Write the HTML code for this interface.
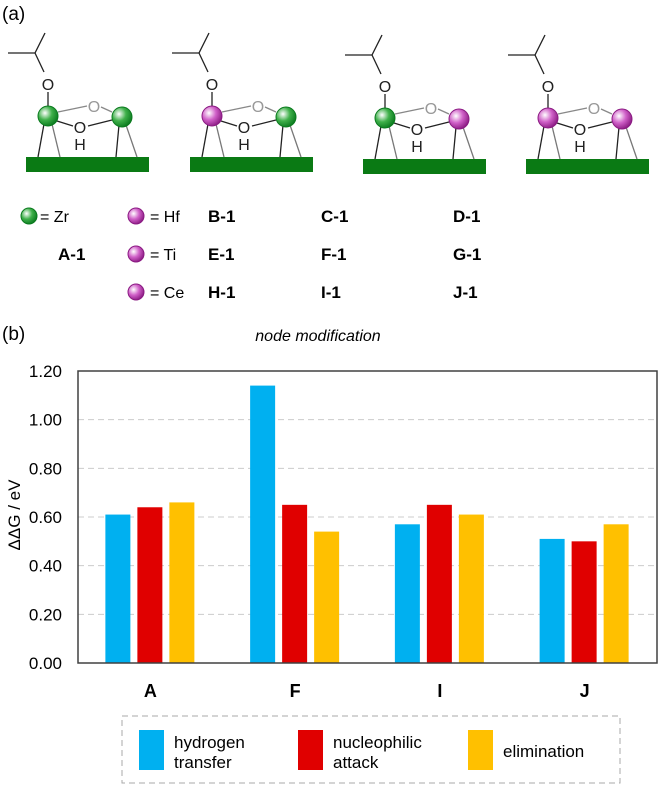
<!DOCTYPE html>
<html><head><meta charset="utf-8"><style>
body{margin:0;background:#fff;font-family:"Liberation Sans",Arial,sans-serif;}
svg text{font-family:"Liberation Sans",Arial,sans-serif;}
</style></head><body>
<svg id="fig" width="658" height="785" xmlns="http://www.w3.org/2000/svg">
<defs>
<radialGradient id="gG" cx="0.35" cy="0.35" r="0.7"><stop offset="0" stop-color="#fff"/><stop offset="0.5" stop-color="#3fb04a"/><stop offset="1" stop-color="#0a7a1e"/></radialGradient>
<radialGradient id="gP" cx="0.35" cy="0.35" r="0.7"><stop offset="0" stop-color="#fff"/><stop offset="0.5" stop-color="#d060c8"/><stop offset="1" stop-color="#8a1a82"/></radialGradient>
</defs>
<text x="2" y="20" font-size="19">(a)</text>
<g id="structs"></g>
<g font-size="16">
<circle cx="29" cy="216" r="8" fill="url(#gG)" stroke="#0a7a1e"/><text x="40" y="222">= Zr</text>
<circle cx="136" cy="216" r="8" fill="url(#gP)" stroke="#8a1a82"/><text x="150" y="222">= Hf</text>
<circle cx="136" cy="254" r="8" fill="url(#gP)" stroke="#8a1a82"/><text x="150" y="260">= Ti</text>
<circle cx="136" cy="292" r="8" fill="url(#gP)" stroke="#8a1a82"/><text x="150" y="298">= Ce</text>
</g>
<g font-size="17" font-weight="bold">
<text x="58" y="260">A-1</text>
<text x="208" y="222">B-1</text><text x="321" y="222">C-1</text><text x="453" y="222">D-1</text>
<text x="208" y="260">E-1</text><text x="321" y="260">F-1</text><text x="453" y="260">G-1</text>
<text x="208" y="298">H-1</text><text x="321" y="298">I-1</text><text x="453" y="298">J-1</text>
</g>
<text x="2" y="340" font-size="19">(b)</text>
<text x="318" y="341" font-size="16" font-style="italic" text-anchor="middle">node modification</text>
<g id="chart"></g>
<text transform="translate(20,515) rotate(-90)" font-size="17" text-anchor="middle">ΔΔG / eV</text>
<rect x="122" y="716" width="498" height="67" fill="none" stroke="#aaa" stroke-dasharray="6,4"/>
<g font-size="17">
<rect x="139" y="730" width="25" height="40" fill="#00b0f0"/>
<text x="174" y="748">hydrogen</text><text x="174" y="768">transfer</text>
<rect x="298" y="730" width="25" height="40" fill="#e00000"/>
<text x="333" y="748">nucleophilic</text><text x="333" y="768">attack</text>
<rect x="468" y="730" width="25" height="40" fill="#ffc000"/>
<text x="503" y="757">elimination</text>
</g>
</svg>
<script>
const categories = ["A","F","I","J"];
const hydrogenTransfer = [0.61, 1.14, 0.57, 0.51];
const nucleophilicAttack = [0.64, 0.65, 0.65, 0.50];
const elimination = [0.66, 0.54, 0.61, 0.57];
const yTicks = [0, 0.2, 0.4, 0.6, 0.8, 1.0, 1.2];
const tickLabels = ["0.00","0.20","0.40","0.60","0.80","1.00","1.20"];

const NS = "http://www.w3.org/2000/svg";
function mk(t, a, p){const e=document.createElementNS(NS,t);for(const k in a)e.setAttribute(k,a[k]);p.appendChild(e);return e;}
const X0=78, X1=657, Y0=663, Y1=371;
const yScale = v => Y0 - (v/1.2)*(Y0-Y1);
const band = (X1-X0)/categories.length;
const xCenter = i => X0 + band*(i+0.5);
const chart = document.getElementById('chart');
yTicks.forEach((v,i)=>{
  if(v>0 && v<1.2){const g=mk('line',{x1:X0,x2:X1,y1:yScale(v),y2:yScale(v),stroke:'#ccc','stroke-dasharray':'6,4'},chart);
  
  }
  const t=mk('text',{x:62,y:yScale(v)+6,'font-size':17,'text-anchor':'end'},chart);
  t.textContent=tickLabels[i];
  
  
});
const series=[[hydrogenTransfer,'#00b0f0','hydrogen-transfer'],[nucleophilicAttack,'#e00000','nucleophilic-attack'],[elimination,'#ffc000','elimination']];
categories.forEach((c,i)=>{
  series.forEach((s,j)=>{
    const v=s[0][i];
    const r=mk('rect',{x:xCenter(i)-45+j*32,y:yScale(v),width:25,height:Y0-yScale(v),fill:s[1]},chart);
    
    
  });
  const t=mk('text',{x:xCenter(i),y:697,'font-size':18,'font-weight':'bold','text-anchor':'middle'},chart);
  t.textContent=c;
  
  
});
const ax=mk('path',{d:`M${X0} ${Y1}H${X1}V${Y0}H${X0}Z`,fill:'none',stroke:'#404040','stroke-width':1.5},chart);



// structures
const structs=document.getElementById('structs');
const cfg=[[0,'G','G'],[164,'P','G'],[337,'G','P'],[500,'P','P']];
cfg.forEach((c,k)=>{
  const g=mk('g',{transform:`translate(${c[0]},${k>=2?2:0})`},structs);
  
  
  mk('rect',{x:26,y:157,width:123,height:15,fill:'#0a7a14'},g);
  const L=(a,b,cc,d,col)=>mk('line',{x1:a,y1:b,x2:cc,y2:d,stroke:col||'#222','stroke-width':1.3},g);
  L(8,53,35,53);L(35,53,45,33);L(35,53,44,72);L(48,92,48,106);
  L(44,124,38,157);L(52,124,60,157,'#777');L(119,125,116,157);L(126,125,137,157,'#777');
  L(58,112,87,106,'#888');L(101,107,112,112,'#888');L(57,121,73,126);L(88,126,112,120);
  [['O',48,90,'#222'],['O',94,112,'#999'],['O',80,133,'#222'],['H',80,150,'#222']].forEach(o=>{const t=mk('text',{x:o[1],y:o[2],'font-size':16,'text-anchor':'middle',fill:o[3]},g);t.textContent=o[0];});
  mk('circle',{cx:48,cy:116,r:10,fill:c[1]=='G'?'url(#gG)':'url(#gP)',stroke:c[1]=='G'?'#0a7a1e':'#8a1a82'},g);
  mk('circle',{cx:122,cy:117,r:10,fill:c[2]=='G'?'url(#gG)':'url(#gP)',stroke:c[2]=='G'?'#0a7a1e':'#8a1a82'},g);
});
</script>
</body></html>
